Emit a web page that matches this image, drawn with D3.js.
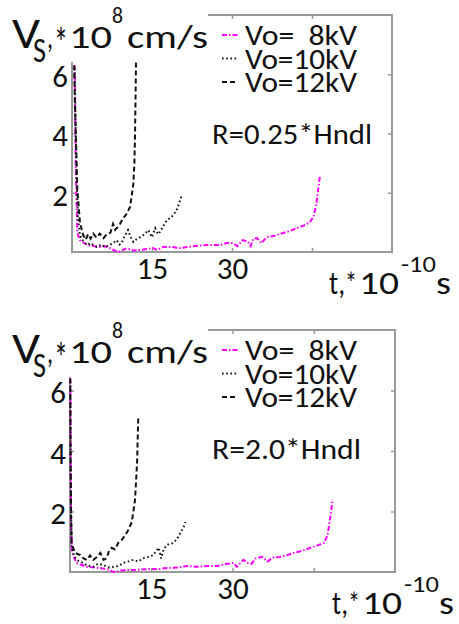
<!DOCTYPE html>
<html>
<head>
<meta charset="utf-8">
<title>Vs vs t</title>
<style>
  html, body { margin: 0; padding: 0; background: #fff; }
  text { font-family: Carlito, Calibri, "Open Sans", sans-serif; fill: #111; }
</style>
</head>
<body>
<svg width="459" height="624"></svg>
<script src="https://cdn.jsdelivr.net/npm/d3@7"></script>
<script>
// t (x1e-10 s), Vs (x1e8 cm/s)
var r025_8kV = [[0.5,6.3],[0.6,4.5],[0.7,3],[0.8,2.1],[1.0,0.64],[1.5,0.4],[2.8,0.24],[4,0.2],[5.2,0.17],[6,0.2],[7.1,0.13],[8,0.05],[8.7,0.0],[10.3,0.13],[11.5,0.05],[12.8,0.07],[14,0.1],[15.2,0.13],[16,0.07],[17.1,0.17],[19,0.17],[20,0.12],[21.5,0.17],[23,0.2],[25.3,0.24],[27.8,0.24],[29,0.3],[30.2,0.3],[31,0.2],[32,0.4],[33,0.35],[33.5,0.2],[34,0.45],[34.7,0.47],[35.5,0.3],[36.5,0.5],[38,0.55],[39.6,0.64],[41,0.72],[42.2,0.81],[43.5,0.9],[44.6,1.0],[45.3,1.2],[45.8,1.6],[46,1.9],[46.3,2.3],[46.5,2.6]];
var r025_10kV = [[0.5,6.2],[0.7,4],[0.9,2.2],[1.1,1.2],[1.5,0.55],[2.0,0.4],[2.8,0.24],[3.5,0.3],[4.6,0.17],[5.5,0.25],[6.2,0.17],[7.1,0.24],[7.7,0.3],[8.4,0.4],[8.9,0.25],[9.3,0.3],[9.9,0.55],[10.5,0.74],[11,0.5],[11.5,0.34],[12.2,0.45],[12.8,0.5],[13.6,0.6],[14.3,0.74],[15,0.5],[15.6,0.8],[16.1,0.6],[16.5,0.68],[17.2,0.9],[17.8,1.08],[18.5,1.15],[19,1.25],[19.6,1.4],[20,1.6],[20.6,1.93]];
var r025_12kV = [[0.4,6.3],[0.55,5],[0.75,3.8],[1.0,2.1],[1.5,0.98],[2.1,0.57],[2.6,0.42],[3.0,0.6],[3.5,0.45],[4.0,0.62],[4.6,0.48],[5.2,0.62],[5.9,0.47],[6.5,0.6],[7.2,0.65],[7.7,0.95],[8.1,0.75],[8.6,0.85],[9.0,0.95],[9.6,1.14],[10.3,1.3],[10.9,1.53],[11.2,1.9],[11.5,2.3],[11.7,3.0],[11.8,3.8],[11.9,5],[12.0,6.4]];

var r20_8kV = [[0.05,6.4],[0.1,4],[0.15,2.5],[0.2,1.5],[0.4,0.63],[1.2,0.3],[3.1,0.17],[5.6,0.13],[7,0.08],[8,0.0],[9,0.03],[10.5,0.07],[12.5,0.07],[14.8,0.1],[16.5,0.1],[17.9,0.13],[20,0.15],[21.6,0.2],[23.5,0.17],[25.4,0.2],[27.2,0.2],[29,0.27],[30.2,0.3],[30.8,0.17],[32,0.4],[32.8,0.3],[33.5,0.27],[34.3,0.45],[35.5,0.5],[36.5,0.35],[37.5,0.48],[38.9,0.5],[40,0.55],[41.3,0.63],[42.8,0.7],[44.4,0.8],[45.7,0.88],[46.9,0.96],[47.5,1.2],[47.8,1.5],[48.2,2.0],[48.5,2.4]];
var r20_10kV = [[0.05,6.3],[0.1,4],[0.2,2],[0.3,0.83],[0.7,0.55],[1.2,0.4],[2.4,0.3],[3.3,0.2],[4.3,0.17],[5.2,0.27],[6.2,0.23],[7,0.15],[8,0.17],[9,0.2],[9.8,0.3],[10.8,0.35],[11.7,0.4],[12.6,0.35],[13.6,0.46],[14.5,0.5],[15.4,0.56],[15.9,0.7],[16.4,0.8],[16.8,0.45],[17.3,0.75],[17.9,0.9],[19.1,0.96],[19.8,1.1],[20.4,1.3],[20.9,1.45],[21.3,1.65]];
var r20_12kV = [[0.05,6.4],[0.1,4],[0.2,2],[0.3,0.96],[0.9,0.63],[1.9,0.56],[2.5,0.45],[3.1,0.4],[3.7,0.55],[4.3,0.4],[5.0,0.5],[5.6,0.63],[6.2,0.4],[6.8,0.46],[7.2,0.7],[7.7,0.8],[8.3,0.75],[8.9,0.96],[9.5,1.05],[10.2,1.22],[10.8,1.4],[11.4,1.65],[11.7,2.0],[12,2.38],[12.2,3.0],[12.4,3.7],[12.5,4.4],[12.6,5.1]];

var xTicks = [15, 30, 45];
var xTickLabels = ["15", "30", ""];
var yTicks = [2, 4, 6];
var legendLabels = ["Vo=\u00a0\u00a08kV", "Vo=10kV", "Vo=12kV"];
var panelNotes = ["R=0.25*Hndl", "R=2.0*Hndl"];

var styles = [
  { color: "#ff00ff", dash: "5,2,1.5,2" },
  { color: "#111", dash: "1.6,2.6" },
  { color: "#111", dash: "5,3" }
];

var panels = [
  { x0: 72, x1: 392, y0: 15, y1: 252, series: [r025_8kV, r025_10kV, r025_12kV], note: panelNotes[0], noteW: 160 },
  { x0: 70, x1: 395, y0: 330, y1: 572, series: [r20_8kV, r20_10kV, r20_12kV], note: panelNotes[1], noteW: 149 }
];

var svg = d3.select("svg");
var axisColor = "#9a9a9a";
var font = "Carlito, Calibri, 'Open Sans', sans-serif";

function label(g, q) {
  g.append("text").attr("x", q.x).attr("y", q.y).style("font-size", q.s + "px")
    .attr("textLength", q.w).attr("lengthAdjust", "spacingAndGlyphs").text(q.t);
}

panels.forEach(function (p) {
  var x = d3.scaleLinear().domain([0, 60]).range([p.x0, p.x1]);
  var y = d3.scaleLinear().domain([0, 8]).range([p.y1, p.y0]);
  var g = svg.append("g");

  // frame
  g.append("rect")
    .attr("x", p.x0).attr("y", p.y0)
    .attr("width", p.x1 - p.x0).attr("height", p.y1 - p.y0)
    .attr("fill", "none").attr("stroke", axisColor).attr("stroke-width", 2);

  function styleAxis(sel) {
    sel.select(".domain").remove();
    sel.selectAll(".tick line").attr("stroke", axisColor).attr("stroke-width", 1.5);
    sel.selectAll(".tick text")
      .style("font-family", font).style("font-size", "31px").attr("fill", "#111");
  }

  g.append("g").attr("transform", "translate(0," + p.y1 + ")")
    .call(d3.axisBottom(x).tickValues(xTicks).tickSize(-4).tickPadding(5)
      .tickFormat(function (d, i) { return xTickLabels[i]; }))
    .call(styleAxis);
  g.append("g").attr("transform", "translate(0," + p.y0 + ")")
    .call(d3.axisTop(x).tickValues(xTicks).tickSize(-4).tickFormat(""))
    .call(styleAxis);
  g.append("g").attr("transform", "translate(" + p.x0 + ",0)")
    .call(d3.axisLeft(y).tickValues(yTicks).tickSize(-4).tickPadding(4).tickFormat(d3.format("d")))
    .call(styleAxis)
    .selectAll(".tick text").attr("dy", "0.4em");
  g.append("g").attr("transform", "translate(" + p.x1 + ",0)")
    .call(d3.axisRight(y).tickValues(yTicks).tickSize(-4).tickFormat(""))
    .call(styleAxis);

  // white patch behind the title
  g.append("rect").attr("x", 0).attr("y", p.y0 - 12)
    .attr("width", 208).attr("height", 59).attr("fill", "#fff");

  var line = d3.line().x(function (d) { return x(d[0]); }).y(function (d) { return y(d[1]); });
  g.selectAll("path.series").data(p.series).enter().append("path")
    .attr("class", "series")
    .attr("d", line)
    .attr("fill", "none")
    .attr("stroke", function (d, i) { return styles[i].color; })
    .attr("stroke-dasharray", function (d, i) { return styles[i].dash; })
    .attr("stroke-width", 2);

  // y title: V_S,*10^8 cm/s
  var b = p.y0 + 33;
  [
    { t: "V", x: 12, y: b, s: 43, w: 28 },
    { t: "S", x: 33, y: b + 14, s: 34, w: 13 },
    { t: ",", x: 47, y: b, s: 33, w: 6 },
    { t: "*", x: 54, y: b + 10, s: 44, w: 14 },
    { t: "10", x: 69, y: b, s: 33, w: 43 },
    { t: "8", x: 112, y: b - 25, s: 22, w: 11 },
    { t: "cm/s", x: 127, y: b, s: 33, w: 81 }
  ].forEach(function (q) { label(g, q); });

  // x title: t,*10^-10 s
  var xb = p.y1 + 42, xs = p.x1 - 63;
  [
    { t: "t,", x: xs, y: xb, s: 33, w: 16 },
    { t: "*", x: xs + 16, y: xb, s: 30, w: 12 },
    { t: "10", x: xs + 30, y: xb, s: 33, w: 40 },
    { t: "-10", x: xs + 72, y: xb - 22, s: 22, w: 35 },
    { t: "s", x: xs + 107, y: xb, s: 33, w: 15 }
  ].forEach(function (q) { label(g, q); });

  // legend
  legendLabels.forEach(function (lab, i) {
    var ly = p.y0 + 30 + i * 23.5;
    g.append("line").attr("x1", 222).attr("x2", 238).attr("y1", ly - 10).attr("y2", ly - 10)
      .attr("stroke", styles[i].color).attr("stroke-dasharray", styles[i].dash).attr("stroke-width", 2);
    label(g, { t: lab, x: 245, y: ly, s: 29, w: 112 });
  });

  label(g, { t: p.note, x: 212, y: p.y0 + 129, s: 28, w: p.noteW });
});
</script>
</body>
</html>
